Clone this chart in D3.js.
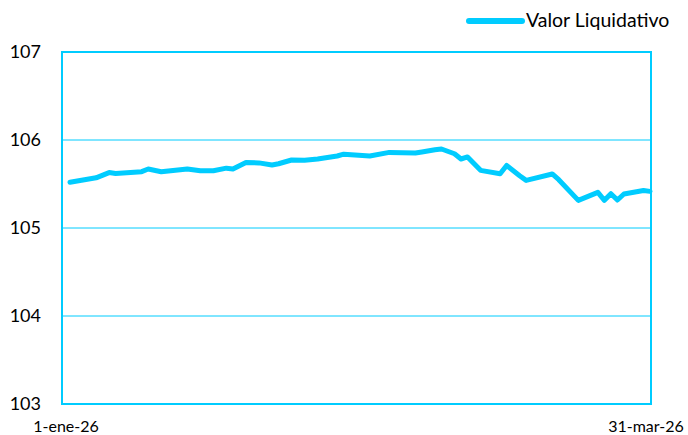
<!DOCTYPE html>
<html>
<head>
<meta charset="utf-8">
<script src="https://cdn.jsdelivr.net/npm/d3@7"></script>
<style>
  body { margin: 0; background: #fff; }
  svg { display: block; font-family: Lato, "Open Sans", sans-serif; }
</style>
</head>
<body>
<svg width="688" height="435"></svg>
<script>
// data
const dates = [
  "2026-01-01", "2026-01-05", "2026-01-07", "2026-01-08", "2026-01-12", "2026-01-13",
  "2026-01-15", "2026-01-19", "2026-01-21", "2026-01-23", "2026-01-25", "2026-01-26",
  "2026-01-28", "2026-01-30", "2026-02-01", "2026-02-02", "2026-02-04", "2026-02-06",
  "2026-02-08", "2026-02-11", "2026-02-12", "2026-02-16", "2026-02-19", "2026-02-23",
  "2026-02-24", "2026-02-26", "2026-02-27", "2026-03-01", "2026-03-02", "2026-03-03",
  "2026-03-05", "2026-03-08", "2026-03-09", "2026-03-11", "2026-03-12", "2026-03-16",
  "2026-03-17", "2026-03-20", "2026-03-23", "2026-03-24", "2026-03-25", "2026-03-26",
  "2026-03-27", "2026-03-30", "2026-03-31"
];
const values = [
  105.52, 105.57, 105.63, 105.62, 105.64, 105.67,
  105.64, 105.67, 105.65, 105.65, 105.68, 105.67,
  105.745, 105.74, 105.716, 105.73, 105.773, 105.77,
  105.784, 105.818, 105.839, 105.818, 105.859, 105.852,
  105.864, 105.89, 105.898, 105.844, 105.784, 105.807,
  105.655, 105.617, 105.711, 105.594, 105.541, 105.614,
  105.549, 105.314, 105.405, 105.314, 105.39, 105.318,
  105.386, 105.427, 105.416
];
const yTicks = [103, 104, 105, 106, 107];
const xLabels = ["1-ene-26", "31-mar-26"];
const seriesName = "Valor Liquidativo";

const color = "#00ccff";
const svg = d3.select("svg");

const plot = { left: 62, right: 651, top: 52, bottom: 404 };

const parse = d3.timeParse("%Y-%m-%d");
const data = dates.map((d, i) => ({ date: parse(d), value: values[i] }));

const x = d3.scaleTime()
    .domain(d3.extent(data, d => d.date))
    .range([70, 650]);
const y = d3.scaleLinear()
    .domain([103, 107])
    .range([plot.bottom, plot.top]);

// gridlines
svg.append("g")
    .selectAll("line")
    .data(yTicks.slice(1, -1))
    .join("line")
    .attr("x1", plot.left)
    .attr("x2", plot.right)
    .attr("y1", d => y(d))
    .attr("y2", d => y(d))
    .attr("stroke", color)
    .attr("stroke-width", 1);

// frame
svg.append("rect")
    .attr("x", plot.left)
    .attr("y", plot.top)
    .attr("width", plot.right - plot.left)
    .attr("height", plot.bottom - plot.top)
    .attr("fill", "none")
    .attr("stroke", color)
    .attr("stroke-width", 2);

// y labels
svg.append("g")
    .selectAll("text")
    .data(yTicks)
    .join("text")
    .attr("x", 41)
    .attr("y", d => y(d))
    .attr("dy", "0.35em")
    .attr("text-anchor", "end")
    .attr("font-size", 18)
    .attr("fill", "#000")
    .text(d => d);

// x labels (first and last date only)
const xEnds = d3.extent(data, d => d.date);
svg.append("g")
    .selectAll("text")
    .data(xEnds)
    .join("text")
    .attr("x", d => x(d) - 4)
    .attr("y", 432)
    .attr("text-anchor", "middle")
    .attr("font-size", 16)
    .text((d, i) => xLabels[i]);

// series line
const line = d3.line()
    .x(d => x(d.date))
    .y(d => y(d.value));

svg.append("path")
    .datum(data)
    .attr("d", line)
    .attr("fill", "none")
    .attr("stroke", color)
    .attr("stroke-width", 5)
    .attr("stroke-linejoin", "round")
    .attr("stroke-linecap", "round");

// legend
const legend = svg.append("g").attr("transform", "translate(469,21)");
legend.append("line")
    .attr("x1", 0)
    .attr("x2", 53)
    .attr("stroke", color)
    .attr("stroke-width", 6)
    .attr("stroke-linecap", "round");
legend.append("text")
    .attr("x", 57)
    .attr("y", 6)
    .attr("font-size", 19.5)
    .text(seriesName);
</script>
</body>
</html>
